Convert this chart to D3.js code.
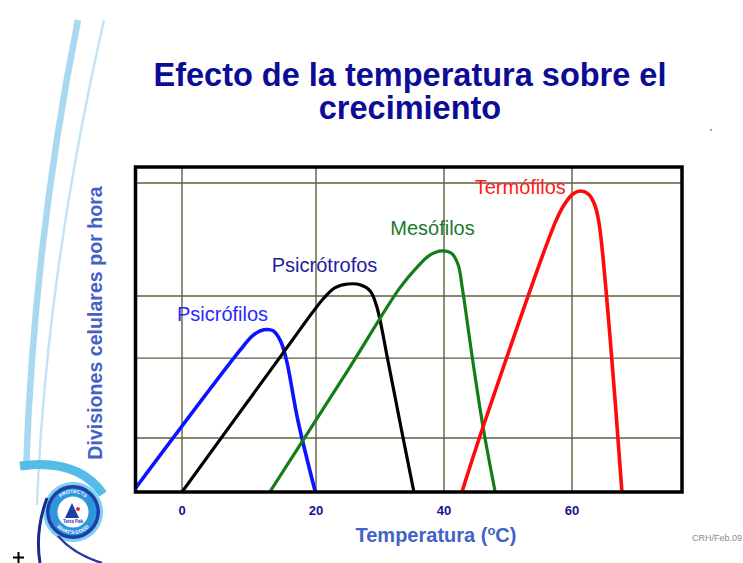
<!DOCTYPE html>
<html>
<head>
<meta charset="utf-8">
<script src="https://cdn.jsdelivr.net/npm/d3@7"></script>
<style>
  html, body { margin: 0; padding: 0; background: #ffffff; }
  svg { display: block; font-family: "Liberation Sans", Arial, sans-serif; }
</style>
</head>
<body>
<svg id="chart" width="743" height="563"></svg>
<script>
// Temperature ticks (ºC) and unlabeled horizontal grid levels (growth rate, arbitrary units)
const tempTicks = [0, 20, 40, 60];
const tickLabels = ["0", "20", "40", "60"];
const rateGrid = [16.6, 41.2, 60.3, 95.1];

// Growth curves: [temperature ºC, divisions per hour (relative)]
const psicrofilos = [[-7, 1], [8.7, 43.7], [10.6, 48.2], [12.2, 49.9], [13.6, 49.6], [14.7, 46.5], [15.6, 40.5], [17.3, 22], [19.9, 0]];
const psicrotrofos = [[0, 0], [15.1, 42.8], [21.2, 59.6], [23, 62.9], [25, 64], [27, 63.7], [28.5, 61.8], [29.5, 57], [31.25, 40.3], [33.3, 19.7], [35.3, 0]];
const mesofilos = [[13.1, 0], [25, 37.5], [33.1, 62.8], [35.8, 69.2], [37.8, 72.9], [39.7, 74.2], [41.2, 73.4], [42.2, 70], [42.9, 62.2], [44.5, 40.3], [46.1, 20], [48, 0]];
const termofilos = [[42.8, 0], [46.1, 20], [57.5, 83.5], [58.9, 88.8], [60.2, 91.8], [61.4, 92.6], [62.6, 91.6], [63.5, 88.6], [64.2, 83], [65.94, 47.7], [67.8, 0]];

const seriesNames = ["Psicrófilos", "Psicrótrofos", "Mesófilos", "Termófilos"];
const seriesData = [psicrofilos, psicrotrofos, mesofilos, termofilos];
// label anchor for each series, in data units
const labelAt = [[-0.75, 52.6], [13.4, 67.7], [31.6, 79.1], [44.8, 91.7]];

const styles = [
  { line: "#0a14ff", text: "#2a2aff", width: 3.6 },
  { line: "#000000", text: "#1e1e9e", width: 3.2 },
  { line: "#137d17", text: "#1a7a2c", width: 3.2 },
  { line: "#ff0a0a", text: "#ff1a1a", width: 3.6 }
];

const svg = d3.select("#chart");

// Plot frame
const plot = { left: 135.5, right: 682, top: 167, bottom: 492 };

const x = d3.scaleLinear().domain([0, 20, 60]).range([182, 316, 572]);
const y = d3.scaleLinear().domain([0, 100]).range([plot.bottom, plot.top]);

// ---- decorative swooshes on the left ----
const deco = svg.append("g");
deco.append("path")
  .attr("d", "M78,20 C52,150 32,300 26,470")
  .attr("fill", "none").attr("stroke", "#a9d9f2").attr("stroke-width", 6.5);
deco.append("path")
  .attr("d", "M104,20 C72,160 44,330 37,505")
  .attr("fill", "none").attr("stroke", "#c4e4f6").attr("stroke-width", 2.5);
deco.append("path")
  .attr("d", "M20,466 Q78,458 103,494")
  .attr("fill", "none").attr("stroke", "#55bcea").attr("stroke-width", 9);

// logo seal
const logo = deco.append("g").attr("transform", "translate(73,512)");
logo.append("circle").attr("r", 30).attr("fill", "#7cd0f2");
logo.append("circle").attr("r", 27).attr("fill", "#1e3fa6");
logo.append("circle").attr("r", 23.5).attr("fill", "#2f95dc");
logo.append("circle").attr("r", 15.5).attr("fill", "#ffffff");
logo.append("path").attr("d", "M-8,6 L-1,-9 L6,6 Z").attr("fill", "#1e3fa6");
logo.append("circle").attr("cx", 5).attr("cy", -3).attr("r", 2).attr("fill", "#e03030");
logo.append("text").attr("y", 11).attr("text-anchor", "middle")
  .attr("font-size", 4.5).attr("font-weight", "bold").attr("fill", "#1e3fa6").text("Tetra Pak");
logo.append("path").attr("id", "ringTop")
  .attr("d", "M-19,0 A19,19 0 0,1 19,0").attr("fill", "none");
logo.append("text").attr("font-size", 5).attr("font-weight", "bold").attr("fill", "#ffffff")
  .append("textPath").attr("href", "#ringTop").attr("startOffset", "50%").attr("text-anchor", "middle")
  .text("PROTECTS");
logo.append("path").attr("id", "ringBottom")
  .attr("d", "M-22,0 A22,22 0 0,0 22,0").attr("fill", "none");
logo.append("text").attr("font-size", 5).attr("font-weight", "bold").attr("fill", "#ffffff")
  .append("textPath").attr("href", "#ringBottom").attr("startOffset", "50%").attr("text-anchor", "middle")
  .text("WHAT'S GOOD");

deco.append("path")
  .attr("d", "M47,498 C37,525 37,545 40,563")
  .attr("fill", "none").attr("stroke", "#1a2a8c").attr("stroke-width", 3);
deco.append("path")
  .attr("d", "M58,536 C70,550 86,558 102,563")
  .attr("fill", "none").attr("stroke", "#2a3a9c").attr("stroke-width", 2.5);

// small cross mark at bottom-left
deco.append("path")
  .attr("d", "M13,557.5 H24 M18.5,552 V563")
  .attr("stroke", "#000").attr("stroke-width", 2);

// tiny dot at right
svg.append("circle").attr("cx", 711).attr("cy", 130).attr("r", 1.2).attr("fill", "#9aa6d8");

// ---- title ----
const title = svg.append("text")
  .attr("text-anchor", "middle")
  .attr("font-size", 32.5).attr("font-weight", "bold").attr("fill", "#0c0c96");
title.append("tspan").attr("x", 410).attr("y", 86).text("Efecto de la temperatura sobre el");
title.append("tspan").attr("x", 410).attr("y", 119).text("crecimiento");

// ---- grid ----
const grid = svg.append("g");
grid.selectAll("line.v").data(tempTicks).join("line")
  .attr("class", "v")
  .attr("x1", d => x(d)).attr("x2", d => x(d))
  .attr("y1", plot.top).attr("y2", plot.bottom)
  .attr("stroke", "#5f5f40").attr("stroke-width", 1.4);
grid.selectAll("line.h").data(rateGrid).join("line")
  .attr("class", "h")
  .attr("x1", plot.left).attr("x2", plot.right)
  .attr("y1", d => y(d)).attr("y2", d => y(d))
  .attr("stroke", "#5f5f40").attr("stroke-width", 1.4);

// ---- curves ----
svg.append("clipPath").attr("id", "plotClip")
  .append("rect")
  .attr("x", plot.left).attr("y", plot.top)
  .attr("width", plot.right - plot.left).attr("height", plot.bottom - plot.top);

const line = d3.line()
  .x(d => x(d[0]))
  .y(d => y(d[1]))
  .curve(d3.curveCatmullRom.alpha(0.5));

const curves = svg.append("g").attr("clip-path", "url(#plotClip)");
curves.selectAll("path").data(seriesData).join("path")
  .attr("d", line)
  .attr("fill", "none")
  .attr("stroke", (d, i) => styles[i].line)
  .attr("stroke-width", (d, i) => styles[i].width)
  .attr("stroke-linejoin", "round");

// ---- series labels ----
svg.append("g").selectAll("text").data(seriesNames).join("text")
  .attr("x", (d, i) => x(labelAt[i][0]))
  .attr("y", (d, i) => y(labelAt[i][1]))
  .attr("font-size", 20)
  .attr("fill", (d, i) => styles[i].text)
  .text(d => d);

// ---- frame ----
svg.append("rect")
  .attr("x", plot.left).attr("y", plot.top)
  .attr("width", plot.right - plot.left).attr("height", plot.bottom - plot.top)
  .attr("fill", "none").attr("stroke", "#000").attr("stroke-width", 3.5);

// ---- x tick labels ----
svg.append("g").selectAll("text").data(tempTicks).join("text")
  .attr("x", d => x(d))
  .attr("y", 515)
  .attr("text-anchor", "middle")
  .attr("font-size", 13).attr("font-weight", "bold").attr("fill", "#14148c")
  .text((d, i) => tickLabels[i]);

// ---- axis titles ----
const xTitle = svg.append("text")
  .attr("x", 436).attr("y", 542)
  .attr("text-anchor", "middle")
  .attr("font-size", 20).attr("font-weight", "bold").attr("fill", "#4262c8");
xTitle.append("tspan").text("Temperatura (");
xTitle.append("tspan").attr("font-size", 13).attr("dy", -7).text("o");
xTitle.append("tspan").attr("dy", 7).text("C)");

svg.append("text")
  .attr("transform", "translate(102,323) rotate(-90)")
  .attr("text-anchor", "middle")
  .attr("font-size", 19.6).attr("font-weight", "bold").attr("fill", "#4262c8")
  .text("Divisiones celulares por hora");

// ---- footer ----
svg.append("text")
  .attr("x", 692).attr("y", 541)
  .attr("font-size", 9).attr("fill", "#8a8a8a")
  .text("CRH/Feb.09");
</script>
</body>
</html>
